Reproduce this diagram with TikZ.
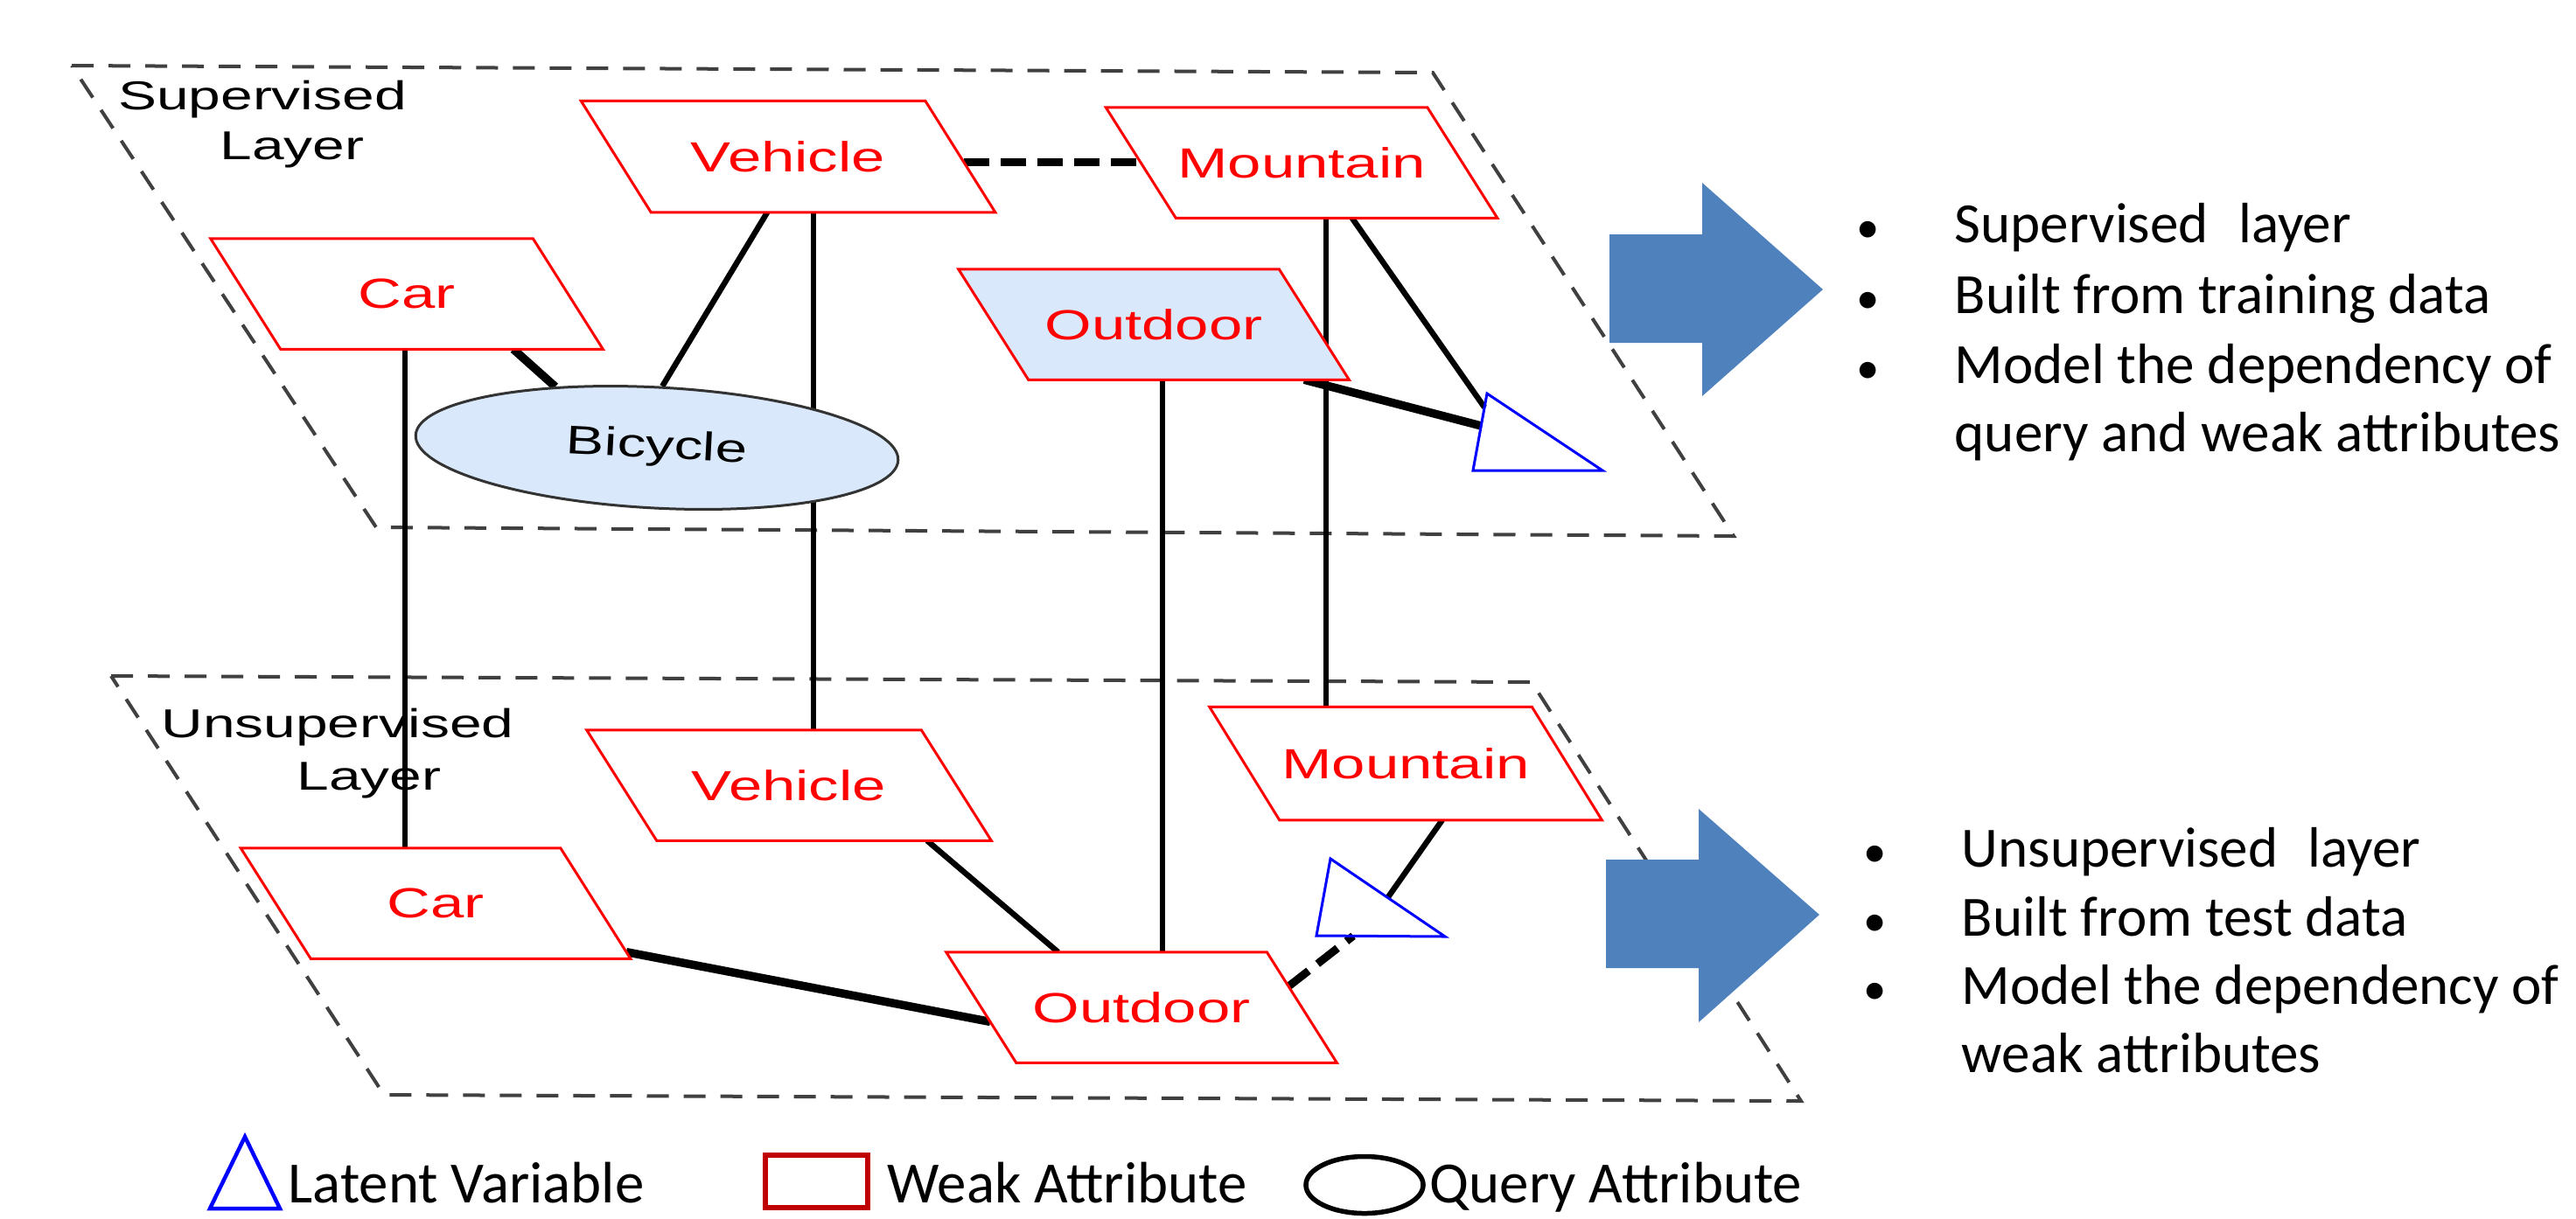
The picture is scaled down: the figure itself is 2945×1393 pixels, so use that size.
\documentclass[tikz,border=0pt]{standalone}
\usepackage{fontspec}
\usetikzlibrary{shapes.geometric,calc}
\newfontfamily\arialx[FakeStretch=1.43]{Liberation Sans}
\newfontfamily\calib{Carlito}
\definecolor{lblue}{HTML}{DAE8FC}
\definecolor{arrblue}{HTML}{4F81BD}
\definecolor{dgrey}{HTML}{404040}
\definecolor{legred}{HTML}{C00000}
\pgfdeclarelayer{back}
\pgfdeclarelayer{links}
\pgfdeclarelayer{shapes}
\pgfsetlayers{back,links,shapes,main}
% weak attribute: named text node + parallelogram outline with named corners
% #1 fill, #2 name, #3 x, #4 y, #5 edge length, #6 height, #7 text
\newcommand\weaknode[7][white]{%
  \node[weaktext, minimum width=#5, minimum height=#6] (#2) at (#3,#4) {#7};
  \coordinate (#2-tl) at ($(#2.north west)+(-40,0)$);
  \coordinate (#2-tr) at ($(#2.north east)+(-40,0)$);
  \coordinate (#2-br) at ($(#2.south east)+(40,0)$);
  \coordinate (#2-bl) at ($(#2.south west)+(40,0)$);
  \begin{pgfonlayer}{shapes}
    \draw[weakline, fill=#1] (#2-tl) -- (#2-tr) -- (#2-br) -- (#2-bl) -- cycle;
  \end{pgfonlayer}}
\begin{document}
\begin{tikzpicture}[x=0.01cm,y=-0.01cm,
  weaktext/.style={rectangle, inner sep=0pt, text=red,
    font=\arialx\fontsize{13.7}{15}\selectfont},
  weakline/.style={draw=red, line width=0.03cm},
  querybox/.style={ellipse, draw=black!80, line width=0.03cm, fill=lblue,
    minimum width=5.52cm, minimum height=1.38cm, inner sep=0pt,
    font=\arialx\fontsize{13}{15}\selectfont},
  layerlabel/.style={anchor=base, inner sep=0pt, font=\arialx\fontsize{13.1}{15}\selectfont},
  link/.style={line width=0.06cm, black},
  diaglink/.style={line width=0.065cm, black},
  thicklink/.style={line width=0.095cm, black},
  dlink/.style={line width=0.09cm, black, dash pattern=on 0.29cm off 0.13cm},
  layerframe/.style={dgrey, line width=0.04cm, dash pattern=on 0.25cm off 0.17cm},
  latent/.style={blue, line width=0.03cm},
  bullettext/.style={anchor=base west, inner sep=0pt, font=\calib\fontsize{18.5}{22}\selectfont},
  bulletdot/.style={anchor=base, inner sep=0pt, font=\calib\fontsize{15}{22}\selectfont},
  legtext/.style={anchor=base west, inner sep=0pt, font=\calib\fontsize{19}{22}\selectfont}]
\useasboundingbox (0,0) rectangle (2945,1393);

% ---------- layer frames and labels ----------
\begin{pgfonlayer}{back}
  \draw[layerframe] (82,75) -- (1638,83) -- (1982,613) -- (430,603) -- cycle;
  \draw[layerframe] (127,773) -- (1751,780) -- (2059,1259) -- (439,1252) -- cycle;
  \node[layerlabel] (supA) at (300,125) {Supervised};
  \node[layerlabel] (supB) at (334,182) {Layer};
  \node[layerlabel] (unsA) at (386,843) {Unsupervised};
  \node[layerlabel] (unsB) at (422,903) {Layer};
\end{pgfonlayer}

% ---------- supervised layer nodes ----------
\weaknode{carU}{465}{336}{3.67cm}{1.25cm}{Car}
\weaknode{vehU}{901}{179}{3.92cm}{1.26cm}{Vehicle}
\weaknode{mtnU}{1488}{186}{3.66cm}{1.25cm}{Mountain}
\weaknode[lblue]{outU}{1319}{371}{3.65cm}{1.25cm}{Outdoor}
\node[querybox, rotate=-3] (bike) at (751,512) {Bicycle};
\coordinate (latUt) at (1700,450);
\coordinate (latUl) at (1684,538);
\coordinate (latUr) at (1832,538);
\draw[latent] (latUt) -- (latUl) -- (latUr) -- cycle;

% ---------- unsupervised layer nodes ----------
\weaknode{carL}{498}{1033}{3.64cm}{1.25cm}{Car}
\weaknode{vehL}{902}{898}{3.81cm}{1.25cm}{Vehicle}
\weaknode{mtnL}{1607}{873}{3.67cm}{1.28cm}{Mountain}
\weaknode{outL}{1305}{1152}{3.65cm}{1.25cm}{Outdoor}
\coordinate (latLt) at (1521,982);
\coordinate (latLl) at (1505,1070);
\coordinate (latLr) at (1652,1071);
\draw[latent] (latLt) -- (latLl) -- (latLr) -- cycle;

% ---------- connectors ----------
\begin{pgfonlayer}{links}
  % supervised layer
  \draw[dlink] ($(vehU-tr)!0.55!(vehU-br)$) coordinate (dvm) -- (dvm -| mtnU.west);
  \draw[diaglink] ($(vehU-bl)!0.338!(vehU-br)$) -- (bike.88);
  \draw[thicklink] ($(carU-bl)!0.722!(carU-br)$) -- (bike.152);
  \draw[diaglink] ($(mtnU-bl)!0.548!(mtnU-br)$) -- ($(latUt)!0.18!(latUl)$);
  \draw[thicklink] ($(outU-bl)!0.86!(outU-br)$) -- ($(latUt)!0.42!(latUl)$);
  % between layers
  \path ($(carU-bl)!0.387!(carU-br)$) coordinate (vc);
  \path ($(vehU-bl)!0.473!(vehU-br)$) coordinate (vv);
  \path ($(outU-bl)!0.417!(outU-br)$) coordinate (vo);
  \path ($(mtnU-bl)!0.466!(mtnU-br)$) coordinate (vm);
  \draw[link] (vc) -- (vc |- carL.north);
  \draw[link] (vv) -- (vv |- vehL.north);
  \draw[link] (vo) -- (vo |- outL.north);
  \draw[link] (vm) -- (vm |- mtnL.north);
  % unsupervised layer
  \draw[diaglink] ($(vehL-bl)!0.808!(vehL-br)$) -- ($(outL-tl)!0.349!(outL-tr)$);
  \draw[thicklink] ($(carL-br)!0.06!(carL-tr)$) -- ($(outL-tl)!0.63!(outL-bl)$);
  \draw[diaglink] ($(mtnL-bl)!0.505!(mtnL-br)$) -- ($(latLt)!0.5!(latLr)$);
  \draw[dlink] ($(outL-tr)!0.31!(outL-br)$) -- ($(latLl)!0.286!(latLr)$);
\end{pgfonlayer}

% ---------- block arrows ----------
\fill[arrblue] (1840,268) -- (1946,268) -- (1946,209) -- (2084,331) -- (1946,453) -- (1946,392) -- (1840,392) -- cycle;
\fill[arrblue] (1836,983) -- (1942,983) -- (1942,925) -- (2080,1046) -- (1942,1169) -- (1942,1107) -- (1836,1107) -- cycle;

% ---------- bullet texts ----------
\node[bulletdot] (bu1) at (2136,277) {•};
\node[bulletdot] (bu2) at (2136,358) {•};
\node[bulletdot] (bu3) at (2136,438) {•};
\node[bullettext] (tu1) at (2234,277) {Supervised\hspace{0.3em} layer};
\node[bullettext] (tu2) at (2234,358) {Built from training data};
\node[bullettext] (tu3) at (2234,438) {Model the dependency of};
\node[bullettext] (tu4) at (2234,516) {query and weak attributes};

\node[bulletdot] (bl1) at (2144,991) {•};
\node[bulletdot] (bl2) at (2144,1070) {•};
\node[bulletdot] (bl3) at (2144,1148) {•};
\node[bullettext] (tl1) at (2242,991) {Unsupervised\hspace{0.3em} layer};
\node[bullettext] (tl2) at (2242,1070) {Built from test data};
\node[bullettext] (tl3) at (2242,1148) {Model the dependency of};
\node[bullettext] (tl4) at (2242,1226) {weak attributes};

% ---------- legend ----------
\coordinate (legTt) at (280,1300);
\coordinate (legTl) at (240,1382);
\coordinate (legTr) at (320,1382);
\draw[blue, line width=0.045cm] (legTt) -- (legTl) -- (legTr) -- cycle;
\node[legtext] (legA) at (329,1375) {Latent Variable};
\node[draw=legred, line width=0.055cm, minimum width=1.17cm, minimum height=0.6cm, inner sep=0pt] (legRect) at (933.5,1351) {};
\node[legtext] (legB) at (1014,1375) {Weak Attribute};
\node[ellipse, draw=black, line width=0.055cm, minimum width=1.34cm, minimum height=0.65cm, inner sep=0pt] (legEll) at (1560,1355) {};
\node[legtext] (legC) at (1634,1375) {Query Attribute};
\end{tikzpicture}
\end{document}
